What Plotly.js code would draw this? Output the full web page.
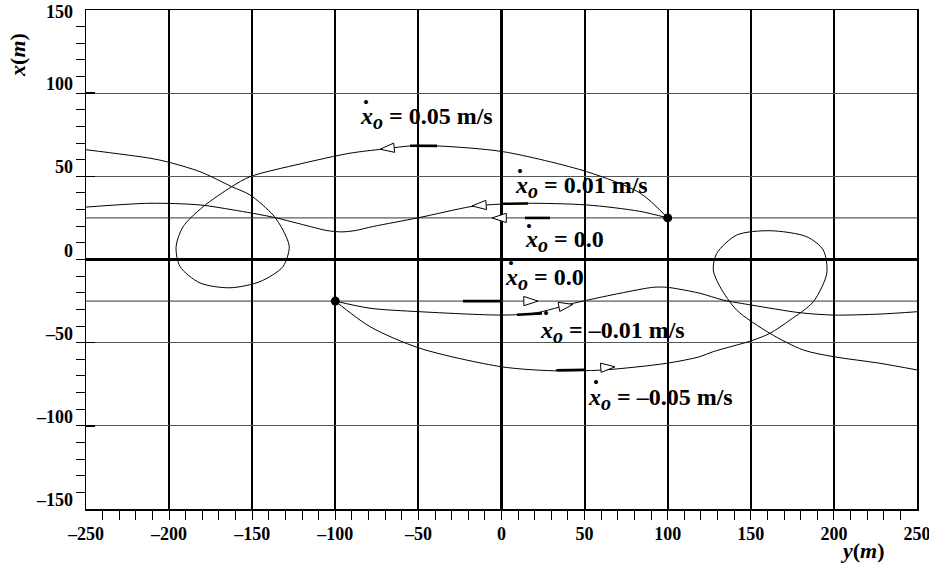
<!DOCTYPE html>
<html><head><meta charset="utf-8">
<script src="https://cdn.plot.ly/plotly-3.0.1.min.js"></script>
<style>html,body{margin:0;padding:0;background:#fff}</style>
</head><body><div id="chart" style="width:929px;height:565px"></div>
<script>
// Horizontal axis is y(m), vertical axis is x(m)
// Trajectory x_o = 0.05 m/s (starts at dot (100,25), moves left)
const t005_y = [100, 83.3, 51.3, 1.1, -37, -53.2, -71.3, -91.2, -121, -151.3, -162.3, -179.6, -191.6, -195.8, -193.4, -181.4, -163.4, -145.3, -131.5, -127.7, -131.5, -137.5, -151.3, -162.3, -181.4, -201.4, -211.5, -250];
const t005_x = [25, 40.0, 52.8, 64.8, 68.2, 68.4, 66.4, 63.9, 57.5, 49.8, 43.8, 31.7, 19.7, 7.7, -4.3, -14.1, -17.0, -13.3, -4.3, 7.7, 17.7, 26.8, 38.8, 43.8, 52.8, 58.8, 60.9, 66.0];
// Trajectory x_o = 0.01 m/s
const t001_y = [100, 83, 51.3, 15.1, -8.9, -19, -50, -77, -88, -96, -105, -115, -137.3, -161.4, -181.4, -211.5, -250];
const t001_x = [25, 29, 32.8, 33.8, 32.8, 31.7, 25.1, 19.9, 17.4, 16.6, 17.4, 19.8, 25.4, 29.8, 32.8, 33.8, 31.5];
// Trajectories x_o = 0.0 (straight lines)
const t000u_y = [-250, 250];
const t000u_x = [25, 25];
const t000l_y = [-250, 250];
const t000l_x = [-25, -25];
// Trajectory x_o = -0.01 m/s (starts at dot (-100,-25), moves right)
const tm001_y = [-100, -79.1, -49, 0.1, 19.2, 43.3, 51.3, 71.3, 91.4, 99.4, 107.4, 119.4, 133.5, 150.5, 179.6, 199.7, 227.7, 250];
const tm001_x = [-25, -29.3, -31.4, -33.4, -32.4, -26.3, -24.5, -20.3, -16.7, -16.7, -17.9, -20.3, -24.4, -27.4, -32.0, -33.4, -32.8, -31.4];
// Trajectory x_o = -0.05 m/s
const tm005_y = [-100, -79.1, -49, 0.1, 31.2, 61.3, 99.4, 119.4, 127.4, 150.5, 161.5, 173.6, 187.6, 195.7, 193.6, 183.6, 161.5, 141.5, 129.5, 127.4, 131.5, 141.5, 161.5, 181.6, 199.7, 227.7, 250];
const tm005_x = [-25, -40.4, -53.4, -64.5, -66.9, -66.4, -62.4, -58.4, -55.4, -48.8, -44.4, -36.4, -25.4, -8.3, 5.7, 13.7, 17.3, 14.7, 3.7, -6.3, -16.4, -30.4, -44.4, -54.4, -58.4, -62.4, -66.4];
// Start points
const start_y = [100, -100];
const start_x = [25, -25];
// Direction arrows (tip position, heading angle)
const arrow_y = [-73.1, -17.8, -5.7, 22.0, 43.0, 68.3];
const arrow_x = [66.3, 32.2, 25, -25, -27.0, -64.5];
const arrow_ang = [264, 266, 270, 90, 80, 86];
// Thick dashes behind arrows
const dash_y0 = [-55.0, 0.9, 14.1, -23.2, 9.3, 33.0];
const dash_y1 = [-38.8, 15.9, 29.2, 0.0, 24.4, 50.2];
const dash_x0 = [68.4, 33.5, 25, -25, -33.2, -66.6];
const dash_x1 = [68.3, 33.7, 25, -25, -32.4, -66.3];
// Labels
const lab_val = ['0.05 m/s', '0.01 m/s', '0.0', '0.0', '–0.01 m/s', '–0.05 m/s'];
const lab_y = [-86.3, 6.9, 12.9, 0.9, 22.0, 50.8];
const lab_x = [85.1, 43.4, 11.3, -11.7, -43.8, -83.9];
const dot_y = [-81.5, 11.1, 16.7, 5.5, 26.8, 56.9];
const dot_x = [94.1, 53.2, 20.1, -2.7, -32.4, -73.8];
// Axis ticks
const xTickVals = [-250, -200, -150, -100, -50, 0, 50, 100, 150, 200, 250];
const xTickText = ['–250', '–200', '–150', '–100', '–50', '0', '50', '100', '150', '200', '250'];
const yTickVals = [-150, -100, -50, 0, 50, 100, 150];
const yTickText = ['–150', '–100', '–50', '0', '50', '100', '150'];

const FONT = '"Liberation Serif", "Times New Roman", Times, serif';
const curve = {color: '#000', width: 1, shape: 'spline', smoothing: 0.8};
const traces = [];
function addCurve(xs, ys, line) {
  traces.push({type: 'scatter', mode: 'lines', x: xs, y: ys, line: line, hoverinfo: 'skip', showlegend: false});
}
addCurve(t000u_y, t000u_x, {color: '#333', width: 1});
addCurve(t000l_y, t000l_x, {color: '#333', width: 1});
addCurve(t005_y, t005_x, curve);
addCurve(t001_y, t001_x, curve);
addCurve(tm001_y, tm001_x, curve);
addCurve(tm005_y, tm005_x, curve);
for (let i = 0; i < dash_y0.length; i++) {
  addCurve([dash_y0[i], dash_y1[i]], [dash_x0[i], dash_x1[i]], {color: '#000', width: 2.6});
}
traces.push({type: 'scatter', mode: 'markers', x: arrow_y, y: arrow_x, showlegend: false, hoverinfo: 'skip',
  marker: {symbol: 'arrow', size: 15, angle: arrow_ang, color: '#fff', line: {color: '#000', width: 1}}});
traces.push({type: 'scatter', mode: 'markers', x: start_y, y: start_x, showlegend: false, hoverinfo: 'skip',
  marker: {symbol: 'circle', size: 9, color: '#000'}});

const annotations = [];
for (let i = 0; i < lab_val.length; i++) {
  annotations.push({xref: 'x', yref: 'y', x: lab_y[i], y: lab_x[i], xanchor: 'left', yanchor: 'middle', showarrow: false,
    text: '<i>x</i><sub><span style="font-size:20px"><i>o</i></span></sub> = ' + lab_val[i],
    font: {family: FONT, size: 24, weight: 'bold', color: '#000'}});
  annotations.push({xref: 'x', yref: 'y', x: dot_y[i], y: dot_x[i], xanchor: 'center', yanchor: 'middle', showarrow: false,
    text: '•', font: {family: FONT, size: 17, color: '#000'}});
}
// y tick labels placed just above their ticks
const T = 10, B = 509;
yTickVals.forEach((v, i) => {
  const py = T + (150 - v) / 300 * (B - T);
  const center = Math.max(11.5, Math.min(505, py - 9));
  annotations.push({xref: 'paper', yref: 'y', x: 0, y: v, xanchor: 'right', yanchor: 'middle', xshift: -11, yshift: py - center,
    showarrow: false, text: yTickText[i], font: {family: FONT, size: 18, weight: 'bold', color: '#000'}});
});
annotations.push({xref: 'paper', yref: 'paper', x: 0.935, y: 0, yshift: -41, xanchor: 'center', yanchor: 'middle', showarrow: false,
  text: '<i>y</i>(<i>m</i>)', font: {family: FONT, size: 22, weight: 'bold', color: '#000'}});
annotations.push({xref: 'paper', yref: 'paper', x: 0, xshift: -68, y: 0.91, xanchor: 'center', yanchor: 'middle', showarrow: false, textangle: -90,
  text: '<i>x</i>(<i>m</i>)', font: {family: FONT, size: 22, weight: 'bold', color: '#000'}});

const axisCommon = {showgrid: true, dtick: 50, tick0: 0, zeroline: true, zerolinecolor: '#000', zerolinewidth: 3,
  showline: true, mirror: true, linecolor: '#000', linewidth: 1.5, ticks: 'inside', ticklen: 9, tickwidth: 1.5, tickcolor: '#000',
  minor: {dtick: 10, tick0: 0, ticks: 'outside', ticklen: 9, tickwidth: 1, tickcolor: '#000', showgrid: false},
  fixedrange: true};
const layout = {
  width: 929, height: 565, margin: {l: 86, r: 12, t: 10, b: 56},
  paper_bgcolor: '#fff', plot_bgcolor: '#fff', showlegend: false,
  font: {family: FONT, color: '#000'},
  xaxis: Object.assign({}, axisCommon, {range: [-250, 250], gridcolor: '#000', gridwidth: 2,
    tickmode: 'array', tickvals: xTickVals, ticktext: xTickText, ticklabeloverflow: 'allow', ticklabelstandoff: 8,
    tickfont: {family: FONT, size: 18, weight: 'bold', color: '#000'}}),
  yaxis: Object.assign({}, axisCommon, {range: [-150, 150], gridcolor: '#555', gridwidth: 1, showticklabels: false}),
  annotations: annotations
};
Plotly.newPlot('chart', traces, layout, {displayModeBar: false, staticPlot: true});
</script></body></html>
